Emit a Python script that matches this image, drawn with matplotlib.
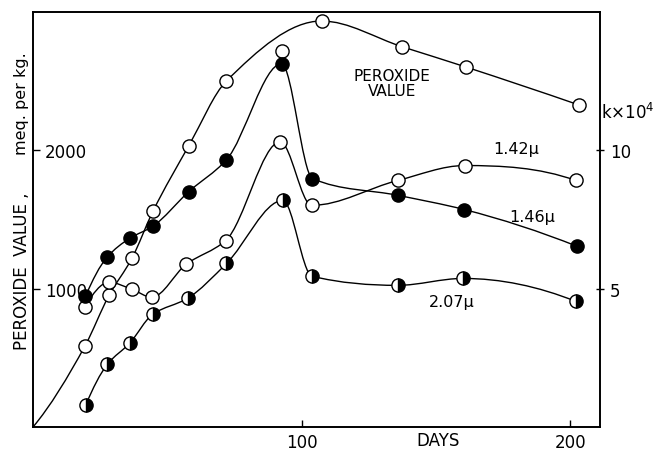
import numpy as np
import matplotlib
matplotlib.use("Agg")
import matplotlib.pyplot as plt
from matplotlib.path import Path
from matplotlib.patches import PathPatch

# peroxide value, meq. per kg (left axis); first point is the origin, drawn without a marker
pv_days = [0, 19.3, 28.3, 36.8, 44.6, 58, 72, 92.6, 107.4, 137.5, 161, 203]
pv_vals = [0, 584, 952, 1219, 1558, 2034, 2502, 2719, 2935, 2748, 2603, 2329]
# the drawn smooth curve passes slightly above the 92.6-day point, so it is left out of the fit
pv_on_curve = [1, 1, 1, 1, 1, 1, 1, 0, 1, 1, 1, 1]

# rate constants k x 10^4 (right axis)
k142_days = [19.3, 28.3, 36.8, 44.2, 57, 71.7, 92, 103.7, 135.7, 160.6, 202]
k142_vals = [4.33, 5.23, 4.98, 4.69, 5.88, 6.74, 10.31, 8.01, 8.91, 9.45, 8.91]

k146_days = [19.5, 27.5, 36, 44.5, 58, 72, 92.5, 104, 136, 160.5, 202.5]
k146_vals = [4.72, 6.13, 6.82, 7.25, 8.51, 9.66, 13.13, 8.98, 8.37, 7.86, 6.53]

k207_days = [19.6, 27.7, 36, 44.5, 57.5, 72, 93, 103.8, 135.7, 160, 202]
k207_vals = [0.79, 2.27, 3.03, 4.07, 4.65, 5.91, 8.19, 5.45, 5.12, 5.37, 4.54]


def smooth_path(xs, ys):
    # monotone cubic (pchip style) curve through the points, as bezier segments
    x = np.asarray(xs, float)
    y = np.asarray(ys, float)
    n = len(x)
    h = np.diff(x)
    d = np.diff(y) / h
    m = np.zeros(n)
    for k in range(1, n - 1):
        if d[k - 1] * d[k] > 0:
            w1 = 2 * h[k] + h[k - 1]
            w2 = h[k] + 2 * h[k - 1]
            m[k] = (w1 + w2) / (w1 / d[k - 1] + w2 / d[k])
    for k, (a, b, ha, hb) in [(0, (d[0], d[1], h[0], h[1])), (n - 1, (d[-1], d[-2], h[-1], h[-2]))]:
        e = ((2 * ha + hb) * a - ha * b) / (ha + hb)
        if e * a <= 0:
            e = 0
        elif a * b <= 0 and abs(e) > abs(3 * a):
            e = 3 * a
        m[k] = e
    verts = [(x[0], y[0])]
    codes = [Path.MOVETO]
    for i in range(n - 1):
        verts += [(x[i] + h[i] / 3, y[i] + m[i] * h[i] / 3),
                  (x[i + 1] - h[i] / 3, y[i + 1] - m[i + 1] * h[i] / 3),
                  (x[i + 1], y[i + 1])]
        codes += [Path.CURVE4] * 3
    return Path(verts, codes)


plt.rcParams['font.family'] = 'DejaVu Sans'

fig = plt.figure(figsize=(6.59, 4.52), dpi=100)
ax = fig.add_axes([33 / 659, 1 - 428 / 452, 567 / 659, 415 / 452])
ax2 = ax.twinx()

ax.set_xlim(0, 211)
ax.set_ylim(0, 3000)
ax2.set_ylim(0, 15)

lw = 1.0
ms = 9.5

mask = np.array(pv_on_curve, bool)
ax.add_patch(PathPatch(smooth_path(np.array(pv_days)[mask], np.array(pv_vals)[mask]),
                       fill=False, lw=lw, color='black'))
ax.plot(pv_days[1:], pv_vals[1:], 'o', ms=ms, mfc='white', mec='black', mew=1.0, zorder=5)

for d, v in [(k142_days, k142_vals), (k146_days, k146_vals), (k207_days, k207_vals)]:
    ax2.add_patch(PathPatch(smooth_path(d, v), fill=False, lw=lw, color='black'))

ax2.plot(k142_days, k142_vals, 'o', ms=ms, mfc='white', mec='black', mew=1.0, zorder=5)
ax2.plot(k146_days, k146_vals, 'o', ms=ms, mfc='black', mec='black', mew=1.0, zorder=5)
ax2.plot(k207_days, k207_vals, 'o', ms=ms, fillstyle='right', mfc='black',
         markerfacecoloralt='white', mec='black', mew=1.0, zorder=5)

for a in (ax, ax2):
    for s in a.spines.values():
        s.set_linewidth(1.2)

ax.set_xticks([100, 200])
ax.set_xticklabels(['100', '200'])
ax.tick_params(axis='x', direction='in', length=5, width=1, pad=4, labelsize=12)
ax.set_yticks([1000, 2000])
ax.set_yticklabels(['1000', '2000'])
ax.tick_params(axis='y', direction='in', length=5, width=1, pad=-8.5, labelsize=12)
for lbl in ax.get_yticklabels():
    lbl.set_horizontalalignment('left')

ax2.set_yticks([5, 10])
ax2.set_yticklabels(['5', '10'])
ax2.tick_params(axis='y', direction='inout', length=6, width=1, pad=4, labelsize=12)

fig.text(438 / 659, 1 - 441 / 452, 'DAYS', ha='center', va='center', fontsize=12)
fig.text(22 / 659, 1 - 350 / 452, 'PEROXIDE  VALUE ,', rotation=90, ha='center', va='bottom', fontsize=12)
fig.text(22 / 659, 1 - 155 / 452, 'meq. per kg.', rotation=90, ha='center', va='bottom', fontsize=11.5)
fig.text(628 / 659, 1 - 113 / 452, 'k×10$^4$', ha='center', va='center', fontsize=12)

fig.text(392 / 659, 1 - 84 / 452, 'PEROXIDE\nVALUE', ha='center', va='center', fontsize=11,
         linespacing=1.0)
fig.text(516 / 659, 1 - 150 / 452, '1.42μ', ha='center', va='center', fontsize=11.5)
fig.text(532 / 659, 1 - 218 / 452, '1.46μ', ha='center', va='center', fontsize=11.5)
fig.text(452 / 659, 1 - 302 / 452, '2.07μ', ha='center', va='center', fontsize=11.5)

fig.savefig('out.png', dpi=100)
